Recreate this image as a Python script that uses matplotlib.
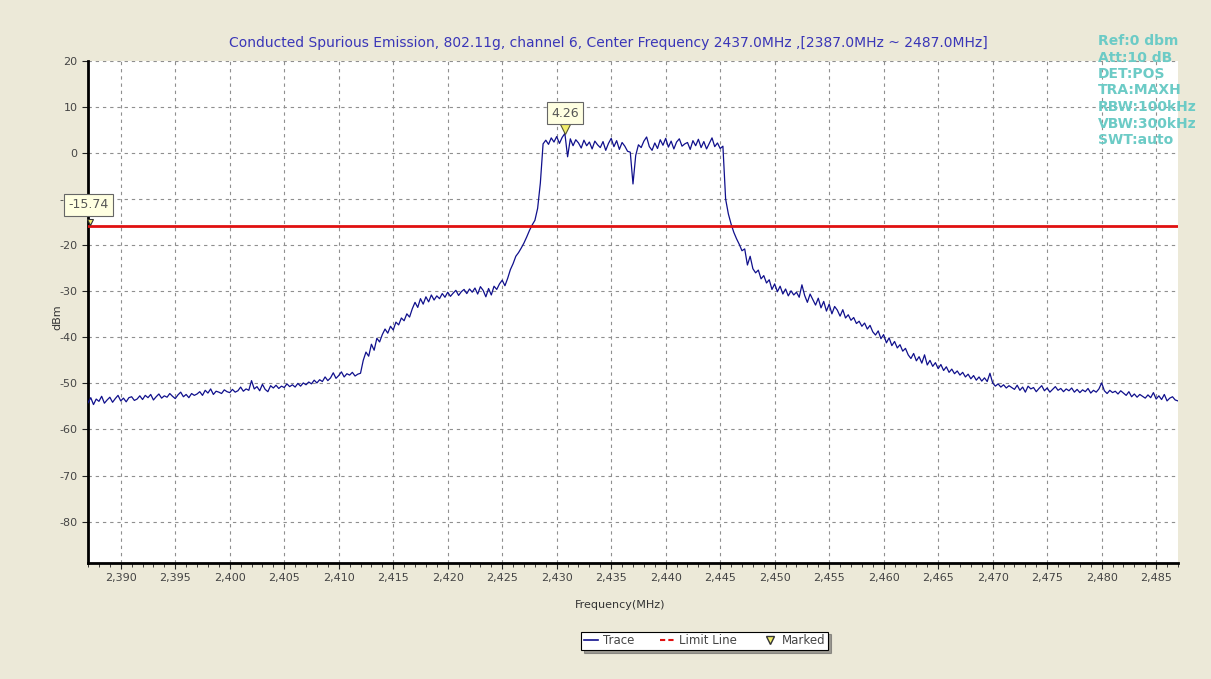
import matplotlib
matplotlib.use("Agg")
import matplotlib.pyplot as plt
import matplotlib.transforms as mtransforms
from matplotlib.lines import Line2D
from matplotlib.ticker import MultipleLocator, StrMethodFormatter
import numpy as np

plt.rcParams["axes.unicode_minus"] = False

# sweep settings (from the title): 2387.0 MHz ~ 2487.0 MHz, 401 points
f_start = 2387.0
f_stop = 2487.0

# trace levels in dBm, one row per 5 MHz (0.25 MHz step)
level = [
    -54.2, -53.1, -54.6, -53.4, -53.9, -52.8, -54.3, -53.6, -53.0, -54.1, -53.3, -52.6, -53.8, -53.2, -54.0, -53.1, -52.9, -53.7, -53.4, -52.7,
    -53.5, -52.6, -53.1, -52.4, -53.6, -52.9, -52.3, -53.2, -52.7, -53.0, -52.2, -52.8, -53.3, -52.5, -51.9, -52.9, -52.4, -53.1, -52.2, -52.6,
    -52.3, -51.8, -52.6, -51.5, -52.1, -51.2, -52.4, -51.7, -51.9, -52.2, -51.4, -51.8, -52.0, -51.3, -51.9, -51.6, -50.8, -51.7, -51.2, -51.5,
    -49.4, -51.2, -50.7, -51.6, -50.2, -51.3, -51.8, -50.5, -51.0, -50.4, -51.1, -50.6, -50.9, -50.1, -50.7, -50.3, -50.8, -50.0, -50.6, -49.9,
    -50.3, -49.7, -50.1, -49.3, -49.9, -49.2, -49.6, -48.6, -49.4, -48.8, -47.7, -48.9, -48.3, -47.5, -48.6, -47.9, -48.2, -47.6, -48.4, -48.0,
    -47.8, -45.0, -43.2, -44.1, -41.5, -42.8, -40.2, -41.0, -39.4, -38.2, -39.1, -37.6, -38.4, -36.7, -37.3, -35.8, -36.4, -34.9, -35.6, -33.8,
    -32.4, -33.5, -31.6, -32.8, -31.2, -32.3, -30.8, -31.9, -31.0, -31.6, -30.5, -31.3, -30.2, -31.1, -30.4, -29.8, -30.9, -30.1, -29.6, -30.5,
    -29.5, -30.2, -29.3, -30.6, -29.0, -29.8, -31.2, -29.4, -30.8, -28.9, -29.6, -28.4, -27.6, -28.8, -27.2, -25.3, -24.0, -22.4, -21.6, -20.6,
    -19.5, -18.2, -16.8, -15.6, -14.6, -12.0, -6.5, 2.0, 2.8, 1.9, 3.3, 2.4, 3.6, 2.1, 3.4, 4.26, -0.8, 3.1, 1.6, 2.9,
    2.2, 1.1, 2.8, 1.6, 2.4, 0.9, 2.6, 1.8, 1.2, 2.5, 0.6, 2.1, 3.2, 1.4, 2.7, 0.8, 2.3, 1.5, 0.4, 0.2,
    -6.7, -0.5, 1.8, 1.2, 2.6, 3.5, 1.4, 0.6, 2.2, 1.0, 2.9, 1.7, 3.2, 1.3, 2.6, 0.9, 2.4, 3.1, 1.5, 2.0,
    2.3, 0.8, 2.7, 1.6, 3.0, 1.2, 2.5, 0.9, 2.1, 3.3, 1.4, 2.2, 1.0, 1.5, -10.0, -13.2, -15.4, -17.2, -18.6, -19.8,
    -21.2, -20.8, -24.3, -22.4, -25.1, -26.0, -25.4, -27.3, -26.6, -28.2, -27.5, -29.6, -28.4, -30.1, -28.9, -30.6, -29.5, -31.0, -29.9, -30.8,
    -30.2, -31.3, -28.6, -30.9, -32.4, -30.6, -31.8, -33.0, -31.5, -33.6, -32.2, -34.3, -32.8, -34.9, -33.3, -34.1, -35.4, -34.0, -35.8, -35.1,
    -36.3, -35.7, -37.0, -36.5, -37.6, -36.9, -38.2, -37.4, -38.8, -39.5, -38.6, -40.3, -39.4, -41.2, -40.1, -41.8, -40.9, -42.3, -41.6, -43.0,
    -42.4, -43.8, -44.6, -43.5, -45.1, -44.2, -45.6, -43.8, -46.0, -45.0, -46.3, -45.5, -46.8, -45.9, -47.2, -46.4, -47.6, -46.9, -47.9, -47.3,
    -48.2, -47.6, -48.6, -48.0, -49.0, -48.3, -49.3, -48.6, -49.5, -48.8, -49.6, -47.8, -49.9, -50.6, -50.1, -50.8, -50.3, -51.0, -50.5, -50.9,
    -51.3, -50.4, -51.5, -50.8, -51.9, -50.6, -51.2, -50.9, -51.8, -51.1, -50.5, -51.6, -51.0, -51.9, -51.3, -50.7, -51.5, -51.1, -51.8, -51.2,
    -51.6, -51.0, -51.9, -51.3, -52.0, -51.4, -51.8, -51.1, -52.1, -51.5, -51.9, -51.2, -49.9, -51.6, -52.2, -51.5, -52.0, -51.7, -52.3, -51.6,
    -52.1, -52.6, -51.8, -52.9, -52.3, -53.0, -52.4, -52.8, -53.2, -52.5, -53.1, -52.0, -53.4, -52.7, -53.5, -52.4, -53.8, -53.2, -52.9, -53.6,
    -53.8,
]
freq = np.linspace(f_start, f_stop, len(level))

limit_level = -15.74
marker_freq = 2430.75
marker_level = 4.26

info_lines = ["Ref:0 dbm", "Att:10 dB", "DET:POS", "TRA:MAXH",
              "RBW:100kHz", "VBW:300kHz", "SWT:auto"]

title = ("Conducted Spurious Emission, 802.11g, channel 6, Center Frequency 2437.0MHz "
         ",[2387.0MHz ~ 2487.0MHz]")

bg = "#ECE9D8"
trace_col = "#10108C"
limit_col = "#E01010"

fig = plt.figure(figsize=(12.11, 6.79), dpi=100, facecolor=bg)
ax = fig.add_axes([0.0727, 0.1708, 0.9, 0.7394], facecolor="white")

ax.plot(freq, level, color=trace_col, lw=0.9, zorder=3)
ax.axhline(limit_level, color=limit_col, lw=2.0, zorder=4)

# marker triangle, tip sitting on the marked level
off = mtransforms.offset_copy(ax.transData, fig=fig, x=0, y=4, units="dots")
ax.plot([marker_freq], [marker_level], marker="v", ms=7, mfc="#F2EE6A",
        mec="#555533", mew=0.8, transform=off, zorder=6, clip_on=False)
ax.annotate(f"{marker_level:.2f}", xy=(marker_freq, marker_level), xytext=(0, 14.5),
            textcoords="offset points", ha="center", va="center", fontsize=9,
            color="#555555", zorder=7,
            bbox=dict(boxstyle="square,pad=0.35", fc="#FFFFE1", ec="#666666", lw=0.8))

ax.plot([f_start + 0.15], [limit_level], marker="v", ms=4, mfc="#F2EE6A",
        mec="#333333", mew=0.8, transform=off, zorder=6, clip_on=False)
ax.annotate(f"{limit_level:.2f}", xy=(f_start, limit_level), xytext=(0, 15),
            textcoords="offset points", ha="center", va="center", fontsize=9,
            color="#555555", zorder=7, annotation_clip=False,
            bbox=dict(boxstyle="square,pad=0.35", fc="#FFFFE1", ec="#666666", lw=0.8))

ax.set_xlim(f_start, f_stop)
ax.set_ylim(-89, 20)
ax.xaxis.set_minor_locator(MultipleLocator(1))
ax.set_xticks(list(range(2390, 2490, 5)))
ax.xaxis.set_major_formatter(StrMethodFormatter("{x:,.0f}"))
ax.set_yticks(list(range(-80, 30, 10)))

ax.grid(True, which="major", color="#8F8F8F", ls=(0, (3, 3.5)), lw=0.8)
ax.tick_params(axis="both", which="major", labelsize=8, labelcolor="#444444",
               length=4, width=0.8, color="#222222")
ax.tick_params(axis="x", which="minor", length=3, width=0.6, color="#222222")

for s in ["top", "right"]:
    ax.spines[s].set_visible(False)
for s in ["left", "bottom"]:
    ax.spines[s].set_linewidth(2)
    ax.spines[s].set_color("black")

ax.set_ylabel("dBm", fontsize=8, color="#333333")
ax.yaxis.set_label_coords(-0.024, 0.49)
ax.set_xlabel("Frequency(MHz)", fontsize=8, color="#333333")
ax.xaxis.set_label_coords(0.488, -0.074)

fig.text(0.502, 0.9367, title, ha="center", va="center", fontsize=10, color="#3A36B8")

for i, line in enumerate(info_lines):
    fig.text(0.9067, 1 - (41 + i * 16.5) / 679, line, ha="left", va="center",
             fontsize=10, color="#6CCBC6", fontweight="bold")

handles = [
    Line2D([], [], color=trace_col, lw=1.2),
    Line2D([], [], color=limit_col, lw=1.5, ls=(0, (2.5, 1.5))),
    Line2D([], [], color="none", marker="v", ms=6, mfc="#F2EE6A", mec="#333333"),
]
leg = fig.legend(handles, ["Trace", "Limit Line", "Marked"], loc="center",
                 bbox_to_anchor=(0.5818, 0.056), ncol=3, fontsize=8.5,
                 frameon=True, fancybox=False, shadow=True, edgecolor="black",
                 framealpha=1, handlelength=1.2, handletextpad=0.4, columnspacing=2.2,
                 borderpad=0.25)
leg.get_frame().set_linewidth(0.8)
for t in leg.get_texts():
    t.set_color("#444444")

fig.savefig("out.png", dpi=100, facecolor=bg)
